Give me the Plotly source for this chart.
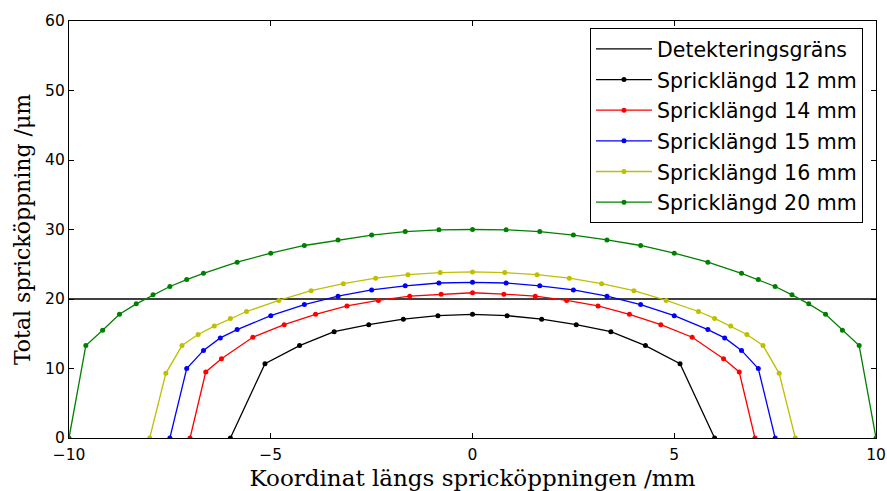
import plotly.graph_objects as go

# Detection limit
det_x = [-10, 10]
det_y = [20, 20]

x12 = [-6, -5.143, -4.286, -3.429, -2.571, -1.714, -0.857, 0, 0.857, 1.714, 2.571, 3.429, 4.286, 5.143, 6]
y12 = [0, 10.7, 13.3, 15.3, 16.3, 17.1, 17.6, 17.8, 17.6, 17.1, 16.3, 15.3, 13.3, 10.7, 0]

x14 = [-7, -6.611, -6.222, -5.444, -4.667, -3.889, -3.111, -2.333, -1.556, -0.778, 0,
       0.778, 1.556, 2.333, 3.111, 3.889, 4.667, 5.444, 6.222, 6.611, 7]
y14 = [0, 9.5, 11.4, 14.5, 16.3, 17.8, 19.0, 19.8, 20.4, 20.7, 20.9,
       20.7, 20.4, 19.8, 19.0, 17.8, 16.3, 14.5, 11.4, 9.5, 0]

x15 = [-7.5, -7.083, -6.667, -6.25, -5.833, -5.0, -4.167, -3.333, -2.5, -1.667, -0.833, 0,
       0.833, 1.667, 2.5, 3.333, 4.167, 5.0, 5.833, 6.25, 6.667, 7.083, 7.5]
y15 = [0, 10.0, 12.6, 14.4, 15.6, 17.6, 19.2, 20.4, 21.3, 21.9, 22.3, 22.4,
       22.3, 21.9, 21.3, 20.4, 19.2, 17.6, 15.6, 14.4, 12.6, 10.0, 0]

x16 = [-8, -7.6, -7.2, -6.8, -6.4, -6.0, -5.6, -4.8, -4.0, -3.2, -2.4, -1.6, -0.8, 0,
       0.8, 1.6, 2.4, 3.2, 4.0, 4.8, 5.6, 6.0, 6.4, 6.8, 7.2, 7.6, 8]
y16 = [0, 9.3, 13.3, 14.9, 16.1, 17.2, 18.2, 19.8, 21.2, 22.2, 23.0, 23.5, 23.8, 23.9,
       23.8, 23.5, 23.0, 22.2, 21.2, 19.8, 18.2, 17.2, 16.1, 14.9, 13.3, 9.3, 0]

x20 = [-10, -9.583, -9.167, -8.75, -8.333, -7.917, -7.5, -7.083, -6.667, -5.833, -5.0, -4.167,
       -3.333, -2.5, -1.667, -0.833, 0, 0.833, 1.667, 2.5, 3.333, 4.167, 5.0, 5.833, 6.667,
       7.083, 7.5, 7.917, 8.333, 8.75, 9.167, 9.583, 10]
y20 = [0, 13.3, 15.5, 17.8, 19.3, 20.6, 21.8, 22.8, 23.7, 25.3, 26.6, 27.7,
       28.5, 29.2, 29.7, 29.95, 30.0, 29.95, 29.7, 29.2, 28.5, 27.7, 26.6, 25.3, 23.7,
       22.8, 21.8, 20.6, 19.3, 17.8, 15.5, 13.3, 0]

series = [
    ("Spricklängd 12 mm", x12, y12, "#000000"),
    ("Spricklängd 14 mm", x14, y14, "#ff0000"),
    ("Spricklängd 15 mm", x15, y15, "#0000ff"),
    ("Spricklängd 16 mm", x16, y16, "#bfbf00"),
    ("Spricklängd 20 mm", x20, y20, "#008000"),
]

fig = go.Figure()
fig.add_trace(go.Scatter(x=det_x, y=det_y, mode="lines", name="Detekteringsgräns",
                         line=dict(color="black", width=1.3), legendgroup="g0"))
for i, (name, xs, ys, col) in enumerate(series):
    fig.add_trace(go.Scatter(x=xs, y=ys, mode="lines+markers", name=name,
                             line=dict(color=col, width=1.3),
                             marker=dict(color=col, size=5),
                             legendgroup=f"g{i+1}"))

axis_common = dict(showline=True, mirror="ticks", linecolor="black", linewidth=1.2,
                   ticks="inside", ticklen=5, tickcolor="black", showgrid=False,
                   zeroline=False, automargin=False,
                   tickfont=dict(family="DejaVu Sans", size=15.5, color="black"))

fig.update_xaxes(range=[-10, 10], tickvals=[-10, -5, 0, 5, 10], ticklabelstandoff=2,
                 title=dict(text="Koordinat längs spricköppningen /mm",
                            font=dict(family="DejaVu Serif", size=23, color="black"), standoff=8),
                 **axis_common)
fig.update_yaxes(range=[0, 60], tickvals=[0, 10, 20, 30, 40, 50, 60],
                 title=dict(text="Total spricköppning /μm",
                            font=dict(family="DejaVu Serif", size=22, color="black"), standoff=8),
                 **axis_common)

fig.update_layout(
    width=887, height=491,
    margin=dict(l=69, r=11, t=21, b=53),
    plot_bgcolor="white", paper_bgcolor="white",
    legend=dict(x=0.6456, y=0.983, xanchor="left", yanchor="top",
                bordercolor="black", borderwidth=1, bgcolor="white",
                font=dict(family="DejaVu Sans", size=20.5, color="black"),
                itemwidth=56, tracegroupgap=1, traceorder="grouped"),
)

fig.write_html("out.html", config={"displayModeBar": False},
               post_script="document.body.style.margin='0';document.body.style.overflow='hidden';")
